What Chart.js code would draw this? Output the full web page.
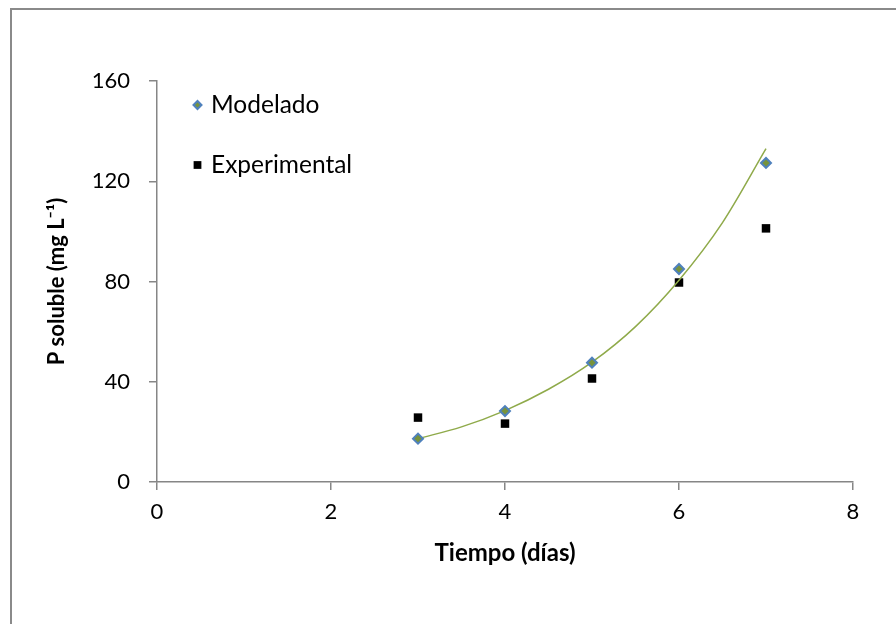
<!DOCTYPE html>
<html>
<head>
<meta charset="utf-8">
<script src="https://cdn.jsdelivr.net/npm/chart.js@4.4.1/dist/chart.umd.min.js"></script>
<style>
  html, body { margin: 0; padding: 0; background: #fff; }
  #wrap { position: relative; width: 896px; height: 624px; }
</style>
</head>
<body>
<div id="wrap"><canvas id="grafico" width="896" height="624"></canvas></div>
<script>
// datos
const dias = [3, 4, 5, 6, 7];
const modelado = [17.3, 28.3, 47.6, 85.0, 127.3];
const experimental = [25.7, 23.3, 41.3, 79.6, 101.2];

// linea de tendencia
const tendenciaX = [3, 3.5, 4, 4.5, 5, 5.5, 6, 6.5, 7];
const tendenciaY = [17.3, 22.0, 28.5, 37.0, 47.8, 62.0, 80.5, 103.5, 133.0];

const xTicks = [0, 2, 4, 6, 8];
const yTicks = [0, 40, 80, 120, 160];

const FONT = 'Lato, "Liberation Sans", sans-serif';
const EJE = '#868686';

const toPts = (xs, ys) => xs.map((x, i) => ({ x: x, y: ys[i] }));

// marco gris exterior
const marco = {
    id: 'marco',
    beforeDraw(chart) {
        const ctx = chart.ctx;
        ctx.save();
        ctx.strokeStyle = '#8a8a8a';
        ctx.lineWidth = 2;
        ctx.beginPath();
        ctx.moveTo(11, 640);
        ctx.lineTo(11, 9);
        ctx.lineTo(900, 9);
        ctx.stroke();
        ctx.restore();
    }
};

// leyenda dentro del area del grafico
const leyenda = {
    id: 'leyenda',
    afterDatasetsDraw(chart) {
        const ctx = chart.ctx;
        const items = chart.data.datasets.filter(d => d.enLeyenda);
        ctx.save();
        items.forEach((d, i) => {
            const y = 105 + i * 60;
            ctx.fillStyle = d.backgroundColor;
            ctx.strokeStyle = d.borderColor;
            ctx.lineWidth = d.borderWidth;
            Chart.helpers.drawPoint(ctx, {
                pointStyle: d.pointStyle,
                radius: d.leyendaRadio,
                borderWidth: d.borderWidth
            }, 197.5, y);
            ctx.fillStyle = '#000';
            ctx.font = '24.5px ' + FONT;
            ctx.textBaseline = 'middle';
            ctx.textAlign = 'left';
            ctx.fillText(d.label, 211, y);
        });
        ctx.restore();
    }
};

const ctx = document.getElementById('grafico').getContext('2d');
new Chart(ctx, {
    type: 'scatter',
    data: {
        datasets: [
            {
                label: 'Modelado',
                enLeyenda: true,
                data: toPts(dias, modelado),
                pointStyle: 'rectRot',
                pointRadius: 5,
                leyendaRadio: 4,
                backgroundColor: '#77933C',
                borderColor: '#4F81BD',
                borderWidth: 2,
                order: 0
            },
            {
                label: 'Tendencia',
                data: toPts(tendenciaX, tendenciaY),
                showLine: true,
                pointRadius: 0,
                borderColor: '#8FAA4A',
                borderWidth: 1.5,
                cubicInterpolationMode: 'monotone',
                order: 1
            },
            {
                label: 'Experimental',
                enLeyenda: true,
                data: toPts(dias, experimental),
                pointStyle: 'rect',
                pointRadius: 6,
                leyendaRadio: 5.5,
                backgroundColor: '#000000',
                borderColor: '#000000',
                borderWidth: 0,
                order: 2
            }
        ]
    },
    options: {
        responsive: false,
        animation: false,
        layout: { padding: { top: 81, right: 43, left: 40, bottom: 52 } },
        plugins: {
            legend: { display: false },
            tooltip: { enabled: false }
        },
        scales: {
            x: {
                type: 'linear',
                min: 0,
                max: 8,
                afterBuildTicks: (s) => { s.ticks = xTicks.map(v => ({ value: v })); },
                afterFit: (s) => { s.height = 90; },
                grid: { drawOnChartArea: false, color: EJE, tickLength: 8, lineWidth: 1.5 },
                border: { color: EJE, width: 1.5 },
                ticks: { color: '#000', font: { family: FONT, size: 22 }, padding: 9 },
                title: {
                    display: true,
                    text: 'Tiempo (días)',
                    color: '#000',
                    font: { family: FONT, size: 24, weight: 'bold' }
                }
            },
            y: {
                type: 'linear',
                min: 0,
                max: 160,
                afterBuildTicks: (s) => { s.ticks = yTicks.map(v => ({ value: v })); },
                afterFit: (s) => { s.width = 117; },
                grid: { drawOnChartArea: false, color: EJE, tickLength: 8, lineWidth: 1.5 },
                border: { color: EJE, width: 1.5 },
                ticks: { color: '#000', font: { family: FONT, size: 22 }, padding: 19 },
                title: {
                    display: true,
                    text: 'P soluble (mg L⁻¹)',
                    color: '#000',
                    font: { family: FONT, size: 22, weight: 'bold' }
                }
            }
        }
    },
    plugins: [marco, leyenda]
});
</script>
</body>
</html>
